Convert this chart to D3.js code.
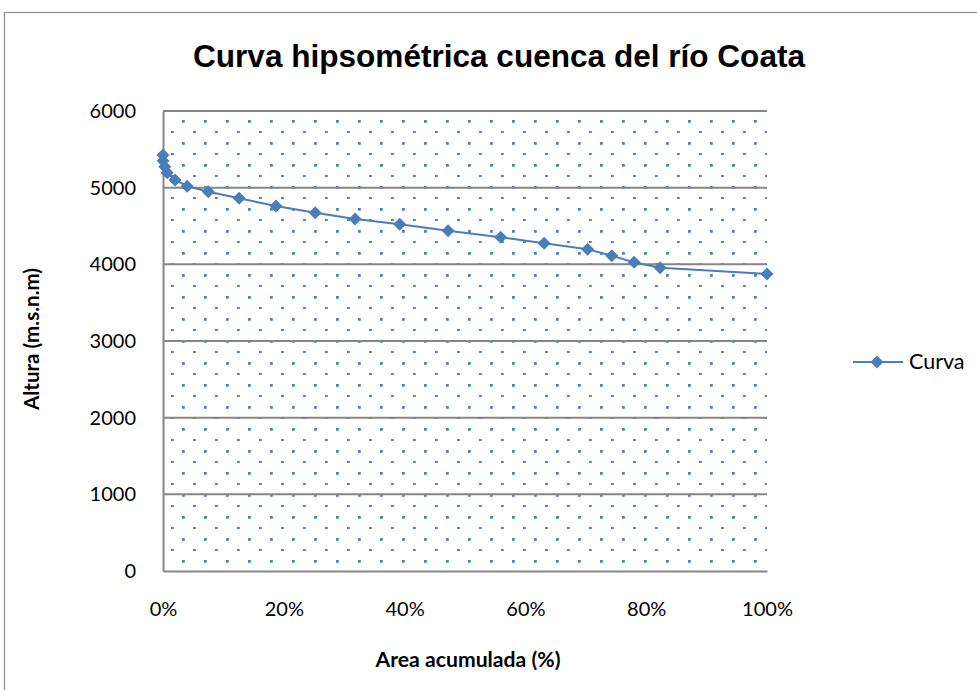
<!DOCTYPE html>
<html><head><meta charset="utf-8">
<script src="https://cdn.jsdelivr.net/npm/d3@7"></script>
<style>body{margin:0;background:#fff}svg{display:block}</style>
</head><body>
<svg id="c" width="977" height="690"></svg>
<script>
const titleText = "Curva hipsométrica cuenca del río Coata";
const xTitle = "Area acumulada  (%)";
const yTitle = "Altura (m.s.n.m)";
const seriesName = "Curva";
const areaPct = [0, 0, 0.3, 0.7, 2, 4, 7.5, 12.6, 18.7, 25.2, 31.8, 39.2, 47.2, 55.9, 63.1, 70.3, 74.3, 78, 82.3, 100];
const altura = [5426, 5352, 5274, 5196, 5100, 5020, 4947, 4861, 4761, 4674, 4591, 4522, 4439, 4353, 4274, 4196, 4113, 4026, 3956, 3874];
const yTicks = [0, 1000, 2000, 3000, 4000, 5000, 6000];
const xTicks = [0, 20, 40, 60, 80, 100];

const svg = d3.select("#c");
const L = 163, R = 767, T = 111, B = 571;
const x = d3.scaleLinear().domain([0, 100]).range([L, R]);
const y = d3.scaleLinear().domain([0, 6000]).range([B, T]);
const blue = "#4A7EBB", grid = "#868686";
const font = "Lato, 'Open Sans', 'Liberation Sans', sans-serif";

// outer border
svg.append("rect").attr("x", 4.5).attr("y", 12.5).attr("width", 1000).attr("height", 700)
  .attr("fill", "#fff").attr("stroke", "#8c8c8c").attr("stroke-width", 1.2);

// dot pattern
const defs = svg.append("defs");
const pat = defs.append("pattern").attr("id", "dots").attr("patternUnits", "userSpaceOnUse")
  .attr("x", L).attr("y", T).attr("width", 22).attr("height", 22);
pat.append("rect").attr("x", 19).attr("y", 9).attr("width", 2.8).attr("height", 2.8).attr("fill", "#4F81BD");
pat.append("rect").attr("x", 8).attr("y", 20).attr("width", 2.8).attr("height", 2.8).attr("fill", "#4F81BD");
svg.append("rect").attr("x", L).attr("y", T).attr("width", R - L).attr("height", B - T).attr("fill", "url(#dots)");

// gridlines
svg.append("g").selectAll("line").data(yTicks.filter(d => d > 0)).join("line")
  .attr("x1", L).attr("x2", R).attr("y1", d => y(d)).attr("y2", d => y(d))
  .attr("stroke", grid).attr("stroke-width", 2);

// axes
const yAxis = svg.append("g").attr("transform", `translate(${L},0)`)
  .call(d3.axisLeft(y).tickValues(yTicks).tickSize(0).tickPadding(27).tickFormat(d3.format("d")));
const xAxis = svg.append("g").attr("transform", `translate(0,${B})`)
  .call(d3.axisBottom(x).tickValues(xTicks).tickSize(0).tickPadding(31).tickFormat(d => d + "%"));
[yAxis, xAxis].forEach(a => {
  a.select(".domain").attr("stroke", grid).attr("stroke-width", 2);
  a.selectAll("text").attr("font-family", font).attr("font-size", 20).attr("fill", "#000");
});

// line + markers
const line = d3.line().x((d, i) => x(areaPct[i])).y(d => y(d));
svg.append("path").datum(altura).attr("d", line).attr("fill", "none")
  .attr("stroke", blue).attr("stroke-width", 2);
const dia = "M0,-6.5L6.5,0L0,6.5L-6.5,0Z";
svg.append("g").selectAll("path").data(altura).join("path")
  .attr("d", dia).attr("transform", (d, i) => `translate(${x(areaPct[i])},${y(d)})`)
  .attr("fill", blue);

// title
svg.append("text").attr("x", 499).attr("y", 67).attr("text-anchor", "middle")
  .attr("font-family", "'Liberation Sans', Arial, sans-serif")
  .attr("font-weight", "bold").attr("font-size", 32)
  .attr("textLength", 612).attr("lengthAdjust", "spacingAndGlyphs").text(titleText);

// axis titles
svg.append("text").attr("x", 468).attr("y", 667).attr("text-anchor", "middle")
  .attr("font-family", font).attr("font-weight", "bold").attr("font-size", 20)
  .attr("textLength", 185).attr("lengthAdjust", "spacingAndGlyphs").text(xTitle);
svg.append("text").attr("transform", "translate(39,339) rotate(-90)").attr("text-anchor", "middle")
  .attr("font-family", font).attr("font-weight", "bold").attr("font-size", 20)
  .attr("textLength", 142).attr("lengthAdjust", "spacingAndGlyphs").text(yTitle);

// legend
svg.append("line").attr("x1", 853).attr("x2", 903).attr("y1", 362).attr("y2", 362)
  .attr("stroke", blue).attr("stroke-width", 2);
svg.append("path").attr("d", dia).attr("transform", "translate(877,362)").attr("fill", blue);
svg.append("text").attr("x", 909).attr("y", 369).attr("font-family", font).attr("font-size", 21.5).text(seriesName);
</script>
</body></html>
